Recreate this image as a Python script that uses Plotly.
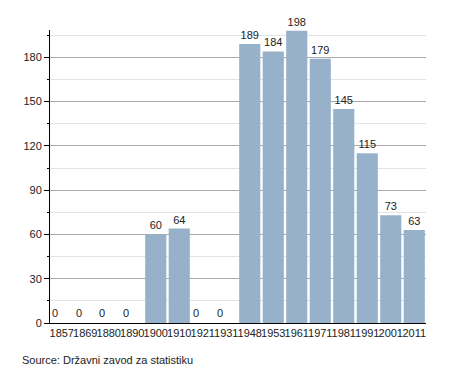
import plotly.graph_objects as go

years = ["1857", "1869", "1880", "1890", "1900", "1910", "1921", "1931",
         "1948", "1953", "1961", "1971", "1981", "1991", "2001", "2011"]
population = [0, 0, 0, 0, 60, 64, 0, 0, 189, 184, 198, 179, 145, 115, 73, 63]

fig = go.Figure()
fig.add_trace(go.Bar(
    x=years, y=population,
    marker=dict(color="#98b1ca", line=dict(width=0)),
    text=[str(v) if v else "" for v in population],
    textposition="outside",
    textfont=dict(size=11, color="#222"),
    cliponaxis=False,
))

annotations = [dict(x=i, y=0, xref="x", yref="y", text=str(v), showarrow=False,
                    xanchor="left", yanchor="bottom", xshift=-11.5, yshift=2,
                    font=dict(size=11, color="#222"))
               for i, v in enumerate(population) if v == 0]
annotations.append(dict(text="Source: Državni zavod za statistiku", xref="paper", yref="paper",
                        x=-0.08, y=-0.126, xanchor="left", yanchor="middle", showarrow=False,
                        font=dict(size=11, color="#222")))

fig.update_layout(
    width=455, height=373,
    margin=dict(l=50, r=29, t=30, b=50),
    paper_bgcolor="white", plot_bgcolor="white",
    font=dict(family="Liberation Sans, Arial, sans-serif", size=11, color="#222"),
    bargap=0.1,
    showlegend=False,
    xaxis=dict(type="category", range=[-0.5, len(years) - 0.5], showline=True,
               linecolor="black", linewidth=1,
               ticks="", showgrid=False, tickangle=0, ticklabelstandoff=0),
    yaxis=dict(range=[0, 198.5], dtick=30, tick0=0, showline=True, linecolor="black",
               linewidth=1, ticks="outside", ticklen=5, tickcolor="black",
               gridcolor="#aaaaaa", gridwidth=1, zeroline=False,
               minor=dict(dtick=15, ticks="outside", ticklen=2, tickcolor="black",
                          showgrid=True, gridcolor="#e3e3e3")),
    annotations=annotations,
)

fig.write_html("out.html", config={"displayModeBar": False},
               post_script="document.body.style.margin='0';")
